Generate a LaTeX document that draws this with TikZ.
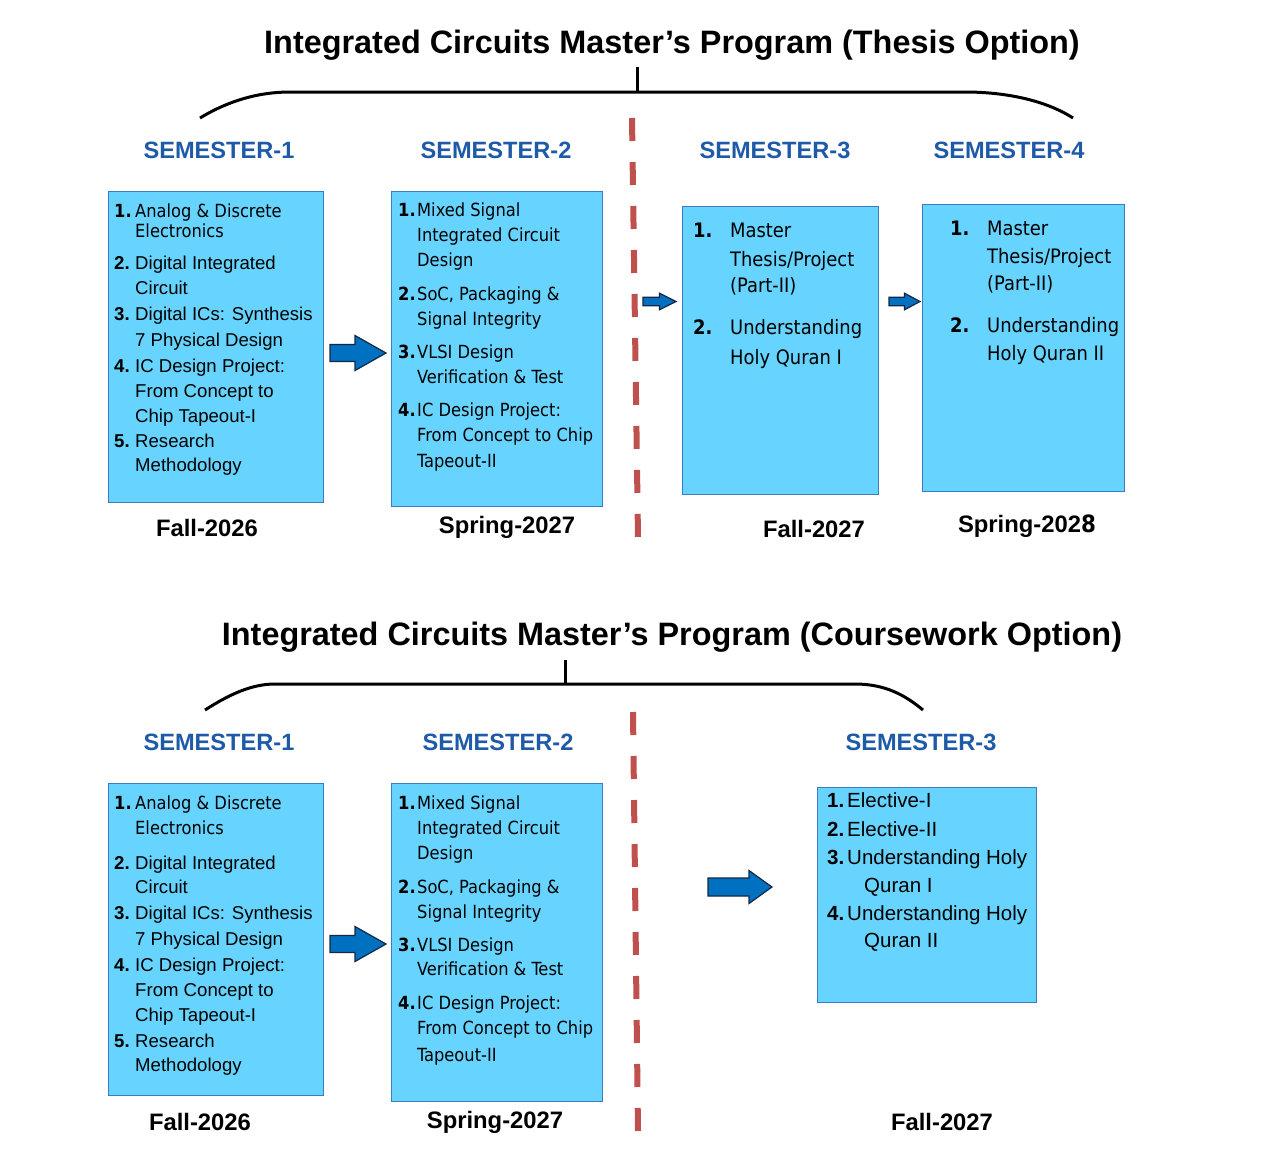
\documentclass[tikz,border=0pt]{standalone}
\usepackage{fontspec}
\setmainfont{Liberation Sans}
\newfontfamily\tah{DejaVu Sans Condensed}
\definecolor{boxfill}{RGB}{102,212,255}
\definecolor{boxline}{RGB}{58,125,192}
\definecolor{semblue}{RGB}{30,90,168}
\definecolor{arrfill}{RGB}{0,112,192}
\definecolor{arrline}{RGB}{20,40,70}
\definecolor{dashred}{RGB}{192,80,77}
\newcommand\itemno[2]{\makebox[#1][l]{\bfseries #2}}
\newcommand\barrow[6]{\draw[blockarr] (#1,{#3-#4}) -- ({#2-#6},{#3-#4}) -- ({#2-#6},{#3-#5}) -- (#2,#3) -- ({#2-#6},{#3+#5}) -- ({#2-#6},{#3+#4}) -- (#1,{#3+#4}) -- cycle;}
\tikzset{
  ar/.style={font=\fontsize{18.6}{22}\selectfont, inner sep=0, anchor=base west},
  th/.style={font=\tah\fontsize{18.1}{22}\selectfont, inner sep=0, anchor=base west},
  thl/.style={font=\tah\fontsize{19.9}{22}\selectfont, inner sep=0, anchor=base west},
  arl/.style={font=\fontsize{20.5}{24}\selectfont, inner sep=0, anchor=base west},
  title/.style={font=\bfseries\fontsize{32.4}{36}\selectfont, inner sep=0, anchor=base},
  sem/.style={font=\bfseries\fontsize{23.6}{28}\selectfont, text=semblue, inner sep=0, anchor=base},
  date/.style={font=\bfseries\fontsize{23.8}{28}\selectfont, inner sep=0, anchor=base},
  sembox/.style={draw=boxline, fill=boxfill, line width=1.3, inner sep=0, anchor=north west},
  brace/.style={line width=3, black},
  divider/.style={draw=dashred, line width=6, dash pattern=on 23 off 21},
  blockarr/.style={fill=arrfill, draw=arrline, line width=1.2, line join=miter}
}
\begin{document}
\begin{tikzpicture}[x=1pt,y=-1pt]
\useasboundingbox[fill=white] (0,0) rectangle (1275,1163);

% ---------------- Thesis option ----------------
\node[title] (t1) at (672,53) {Integrated Circuits Master’s Program (Thesis Option)};
\draw[brace] (200,118) .. controls (228,101) and (258,92) .. (290,92) -- (965,92) .. controls (1005,92) and (1045,100) .. (1073,118);
\coordinate (b1top) at (637,67);
\coordinate (b1mid) at (637,92);
\draw[brace] (b1top) -- (b1mid);

\node[sem] (s11) at (219,158) {SEMESTER-1};
\node[sem] (s12) at (496,158) {SEMESTER-2};
\node[sem] (s13) at (775,158) {SEMESTER-3};
\node[sem] (s14) at (1009,158) {SEMESTER-4};

\node[sembox, minimum width=215, minimum height=311] (A1) at (108,191) {};
\node[sembox, minimum width=211, minimum height=315] (A2) at (391,191) {};
\node[sembox, minimum width=196, minimum height=288] (A3) at (682,206) {};
\node[sembox, minimum width=202, minimum height=287] (A4) at (922,204) {};

% A1 text
\node[th] (a11) at (114,217) {\itemno{21pt}{1.}Analog \& Discrete};
\node[th] (a12) at (135,237) {Electronics};
\node[ar] (a13) at (114,269) {\itemno{21pt}{2.}Digital Integrated};
\node[ar] (a14) at (135,294) {Circuit};
\node[ar] (a15) at (114,320) {\itemno{21pt}{3.}Digital ICs: Synthesis};
\node[ar] (a16) at (135,346) {7 Physical Design};
\node[ar] (a17) at (114,372) {\itemno{21pt}{4.}IC Design Project:};
\node[ar] (a18) at (135,397) {From Concept to};
\node[ar] (a19) at (135,422) {Chip Tapeout-I};
\node[ar] (a110) at (114,447) {\itemno{21pt}{5.}Research};
\node[ar] (a111) at (135,471) {Methodology};

% A2 text
\node[th] (a21) at (398,216) {\itemno{19pt}{1.}Mixed Signal};
\node[th] (a22) at (417,241) {Integrated Circuit};
\node[th] (a23) at (417,266) {Design};
\node[th] (a24) at (398,300) {\itemno{19pt}{2.}SoC, Packaging \&};
\node[th] (a25) at (417,325) {Signal Integrity};
\node[th] (a26) at (398,358) {\itemno{19pt}{3.}VLSI Design};
\node[th] (a27) at (417,383) {Verification \& Test};
\node[th] (a28) at (398,416) {\itemno{19pt}{4.}IC Design Project:};
\node[th] (a29) at (417,441) {From Concept to Chip};
\node[th] (a210) at (417,467) {Tapeout-II};

% A3 text
\node[thl] (a31) at (693,237) {\itemno{37pt}{1.}Master};
\node[thl] (a32) at (730,266) {Thesis/Project};
\node[thl] (a33) at (730,292) {(Part-II)};
\node[thl] (a34) at (693,334) {\itemno{37pt}{2.}Understanding};
\node[thl] (a35) at (730,364) {Holy Quran I};

% A4 text
\node[thl] (a41) at (950,235) {\itemno{37pt}{1.}Master};
\node[thl] (a42) at (987,263) {Thesis/Project};
\node[thl] (a43) at (987,290) {(Part-II)};
\node[thl] (a44) at (950,332) {\itemno{37pt}{2.}Understanding};
\node[thl] (a45) at (987,360) {Holy Quran II};

\node[date] (d11) at (207,536) {Fall-2026};
\node[date] (d12) at (507,533) {Spring-2027};
\node[date] (d13) at (814,537) {Fall-2027};
\node[date] (d14) at (1027,532) {Spring-202{\tah 8}};

\coordinate (dv1a) at (632,118);
\coordinate (dv1b) at (638,537);
\draw[divider] (dv1a) -- (dv1b);

\barrow{330}{386}{353}{8.5}{17.5}{31}
\barrow{643}{676}{301.5}{4.3}{8.3}{16.5}
\barrow{889}{920}{301.5}{4.3}{8.3}{15.5}

% ---------------- Coursework option ----------------
\node[title] (t2) at (672,645) {Integrated Circuits Master’s Program (Coursework Option)};
\draw[brace] (205,710) .. controls (230,694) and (252,684) .. (275,684) -- (855,684) .. controls (885,684) and (905,695) .. (923,710);
\coordinate (b2top) at (565,660);
\coordinate (b2mid) at (565,684);
\draw[brace] (b2top) -- (b2mid);

\node[sem] (s21) at (219,750) {SEMESTER-1};
\node[sem] (s22) at (498,750) {SEMESTER-2};
\node[sem] (s23) at (921,750) {SEMESTER-3};

\node[sembox, minimum width=215, minimum height=312] (B1) at (108,783) {};
\node[sembox, minimum width=211, minimum height=318] (B2) at (391,783) {};
\node[sembox, minimum width=219, minimum height=215] (B3) at (817,787) {};

% B1 text
\node[th] (b11) at (114,809) {\itemno{21pt}{1.}Analog \& Discrete};
\node[th] (b12) at (135,834) {Electronics};
\node[ar] (b13) at (114,869) {\itemno{21pt}{2.}Digital Integrated};
\node[ar] (b14) at (135,893) {Circuit};
\node[ar] (b15) at (114,919) {\itemno{21pt}{3.}Digital ICs: Synthesis};
\node[ar] (b16) at (135,945) {7 Physical Design};
\node[ar] (b17) at (114,971) {\itemno{21pt}{4.}IC Design Project:};
\node[ar] (b18) at (135,996) {From Concept to};
\node[ar] (b19) at (135,1021) {Chip Tapeout-I};
\node[ar] (b110) at (114,1047) {\itemno{21pt}{5.}Research};
\node[ar] (b111) at (135,1071) {Methodology};

% B2 text
\node[th] (b21) at (398,809) {\itemno{19pt}{1.}Mixed Signal};
\node[th] (b22) at (417,834) {Integrated Circuit};
\node[th] (b23) at (417,859) {Design};
\node[th] (b24) at (398,893) {\itemno{19pt}{2.}SoC, Packaging \&};
\node[th] (b25) at (417,918) {Signal Integrity};
\node[th] (b26) at (398,951) {\itemno{19pt}{3.}VLSI Design};
\node[th] (b27) at (417,975) {Verification \& Test};
\node[th] (b28) at (398,1009) {\itemno{19pt}{4.}IC Design Project:};
\node[th] (b29) at (417,1034) {From Concept to Chip};
\node[th] (b210) at (417,1061) {Tapeout-II};

% B3 text
\node[arl] (b31) at (827,807) {\itemno{20pt}{1.}Elective-I};
\node[arl] (b32) at (827,836) {\itemno{20pt}{2.}Elective-II};
\node[arl] (b33) at (827,864) {\itemno{20pt}{3.}Understanding Holy};
\node[arl] (b34) at (864,892) {Quran I};
\node[arl] (b35) at (827,920) {\itemno{20pt}{4.}Understanding Holy};
\node[arl] (b36) at (864,947) {Quran II};

\node[date] (d21) at (200,1130) {Fall-2026};
\node[date] (d22) at (495,1128) {Spring-2027};
\node[date] (d23) at (942,1130) {Fall-2027};

\coordinate (dv2a) at (633,712);
\coordinate (dv2b) at (638,1131);
\draw[divider] (dv2a) -- (dv2b);

\barrow{330}{386}{944}{8.5}{17.5}{31}
\barrow{708}{772}{887}{9}{16.5}{23}
\end{tikzpicture}
\end{document}
